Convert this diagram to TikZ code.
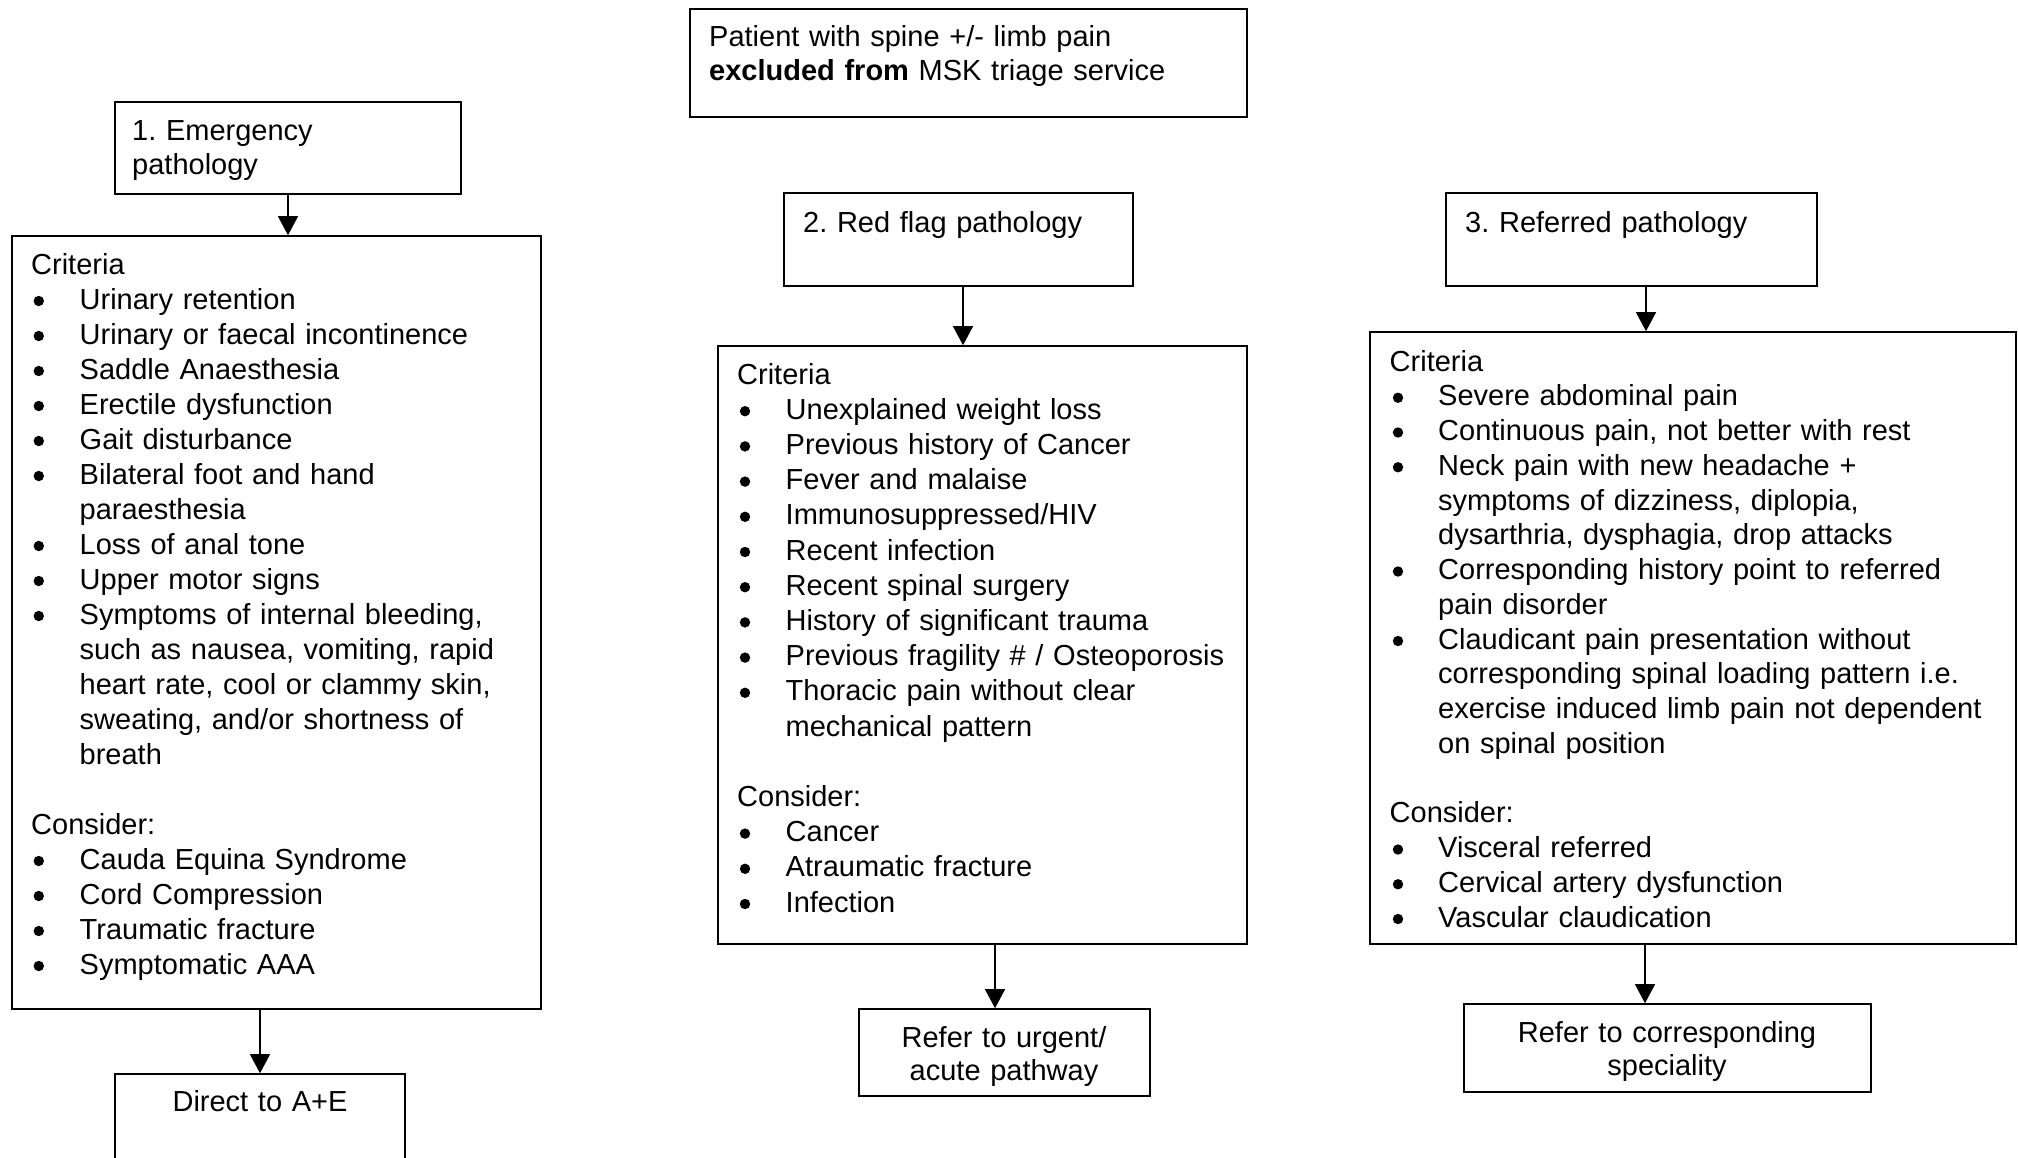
\documentclass[tikz,border=0pt]{standalone}
\usepackage{fontspec}
\setmainfont{Liberation Sans}
\usetikzlibrary{arrows.meta}
\frenchspacing
\newcommand\itm[1]{\hspace*{48.5pt}#1}
\newcommand\cnt[1]{\hspace*{48.5pt}#1}
\tikzset{
  box/.style={draw, line width=1.6pt, inner sep=0pt, rectangle},
  txt/.style={inner sep=0pt, anchor=base west, text width=700pt, align=left},
  ctr/.style={inner sep=0pt, anchor=base, align=center, font=\fontsize{29}{33}\selectfont},
  arr/.style={-{Triangle[width=20pt,length=19pt]}, line width=1.3pt},
  dot/.style={fill=black},
}
\begin{document}
\begin{tikzpicture}[x=1pt,y=-1pt]
\useasboundingbox (0,0) rectangle (2018,1157);
\clip (0,0) rectangle (2018,1157);
\fill[white] (0,0) rectangle (2018,1157);

% boxes
\node[box, minimum width=557pt, minimum height=108pt] (P) at (968.5,63) {};
\node[box, minimum width=346pt, minimum height=92pt] (E1) at (288,148) {};
\node[box, minimum width=529pt, minimum height=773pt] (C1) at (276.5,622.5) {};
\node[box, minimum width=349pt, minimum height=93pt] (R2) at (958.5,239.5) {};
\node[box, minimum width=529pt, minimum height=598pt] (C2) at (982.5,645) {};
\node[box, minimum width=371pt, minimum height=93pt] (R3) at (1631.5,239.5) {};
\node[box, minimum width=646pt, minimum height=612pt] (C3) at (1693,638) {};
\node[box, minimum width=290pt, minimum height=126pt] (AE) at (260,1137) {};
\node[box, minimum width=291pt, minimum height=87pt] (F2) at (1004.5,1052.5) {};
\node[box, minimum width=407pt, minimum height=88pt] (F3) at (1667.5,1048) {};

% texts
\node[txt, font=\fontsize{29}{34}\selectfont] (tP) at (709,46)
  {Patient with spine +/- limb pain\\\textbf{excluded from} MSK triage service};
\node[txt, font=\fontsize{29}{34}\selectfont] (tE1) at (132,140.5)
  {1. Emergency\\pathology};
\node[txt, font=\fontsize{29}{34}\selectfont] (tR2) at (803,232.5)
  {2. Red flag pathology};
\node[txt, font=\fontsize{29}{34}\selectfont] (tR3) at (1465,232.5)
  {3. Referred pathology};

\node[txt, font=\fontsize{29}{35}\selectfont] (tC1) at (31,274) {Criteria\\
\itm{Urinary retention}\\
\itm{Urinary or faecal incontinence}\\
\itm{Saddle Anaesthesia}\\
\itm{Erectile dysfunction}\\
\itm{Gait disturbance}\\
\itm{Bilateral foot and hand}\\
\cnt{paraesthesia}\\
\itm{Loss of anal tone}\\
\itm{Upper motor signs}\\
\itm{Symptoms of internal bleeding,}\\
\cnt{such as nausea, vomiting, rapid}\\
\cnt{heart rate, cool or clammy skin,}\\
\cnt{sweating, and/or shortness of}\\
\cnt{breath}\\
\mbox{}\\
Consider:\\
\itm{Cauda Equina Syndrome}\\
\itm{Cord Compression}\\
\itm{Traumatic fracture}\\
\itm{Symptomatic AAA}};

\node[txt, font=\fontsize{29}{35.2}\selectfont] (tC2) at (737,384) {Criteria\\
\itm{Unexplained weight loss}\\
\itm{Previous history of Cancer}\\
\itm{Fever and malaise}\\
\itm{Immunosuppressed/HIV}\\
\itm{Recent infection}\\
\itm{Recent spinal surgery}\\
\itm{History of significant trauma}\\
\itm{Previous fragility \# / Osteoporosis}\\
\itm{Thoracic pain without clear}\\
\cnt{mechanical pattern}\\
\mbox{}\\
Consider:\\
\itm{Cancer}\\
\itm{Atraumatic fracture}\\
\itm{Infection}};

\node[txt, font=\fontsize{29}{34.75}\selectfont] (tC3) at (1389.5,371) {Criteria\\
\itm{Severe abdominal pain}\\
\itm{Continuous pain, not better with rest}\\
\itm{Neck pain with new headache +}\\
\cnt{symptoms of dizziness, diplopia,}\\
\cnt{dysarthria, dysphagia, drop attacks}\\
\itm{Corresponding history point to referred}\\
\cnt{pain disorder}\\
\itm{Claudicant pain presentation without}\\
\cnt{corresponding spinal loading pattern i.e.}\\
\cnt{exercise induced limb pain not dependent}\\
\cnt{on spinal position}\\
\mbox{}\\
Consider:\\
\itm{Visceral referred}\\
\itm{Cervical artery dysfunction}\\
\itm{Vascular claudication}};

% bullets
\foreach \i in {1,2,3,4,5,6,8,9,10,17,18,19,20}
  \fill[dot] (38.8, 274+35*\i-8) circle (5.2pt);
\foreach \i in {1,2,3,4,5,6,7,8,9,13,14,15}
  \fill[dot] (745, 384+35.2*\i-8) circle (5.2pt);
\foreach \i in {1,2,3,6,8,14,15,16}
  \fill[dot] (1398, 371+34.75*\i-8) circle (5.2pt);

\node[ctr, text width=280pt] (tF2) at (1004,1047.5) {Refer to urgent/\\acute pathway};
\node[ctr, text width=280pt] (tAE) at (260,1111) {Direct to A+E};
\node[ctr, text width=400pt] (tF3) at (1667,1042.5) {Refer to corresponding\\speciality};

% connectors
\coordinate (a2) at ([xshift=4.5pt]R2.south);
\coordinate (a3) at ([xshift=14.5pt]R3.south);
\coordinate (b2) at ([xshift=-9.5pt]F2.north);
\coordinate (b3) at ([xshift=-22.5pt]F3.north);
\draw[arr] (E1.south) -- (E1.south |- C1.north);
\draw[arr] (a2) -- (a2 |- C2.north);
\draw[arr] (a3) -- (a3 |- C3.north);
\draw[arr] (AE.north |- C1.south) -- (AE.north);
\draw[arr] (b2 |- C2.south) -- (b2);
\draw[arr] (b3 |- C3.south) -- (b3);
\end{tikzpicture}
\end{document}
